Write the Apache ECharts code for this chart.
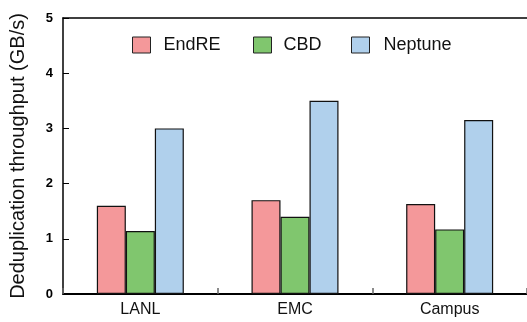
<!DOCTYPE html>
<html>
<head>
<meta charset="utf-8">
<script src="https://cdn.jsdelivr.net/npm/echarts@6/dist/echarts.min.js"></script>
<style>
  html, body { margin: 0; padding: 0; background: #fff; }
  #chart { width: 527px; height: 322px; }
</style>
</head>
<body>
<div id="chart"></div>
<script>
// Deduplication throughput per trace, GB/s
const categories = ['LANL', 'EMC', 'Campus'];
const endre   = [1.60, 1.70, 1.63];
const cbd     = [1.14, 1.40, 1.17];
const neptune = [3.00, 3.50, 3.15];
const yTicks  = [0, 1, 2, 3, 4, 5];

const seriesNames  = ['EndRE', 'CBD', 'Neptune'];
const seriesColors = ['#f4989a', '#80c66e', '#b0d0ec'];

const FONT = 'Liberation Sans, Arial, sans-serif';

function barSeries(i, data) {
  return {
    name: seriesNames[i],
    type: 'bar',
    data: data,
    barWidth: 29,
    barGap: '0%',
    itemStyle: { color: seriesColors[i], borderColor: '#111', borderWidth: 1.2 }
  };
}

// one legend block per series so each key sits at its own spot
const legendLeft = [132, 253, 351];
const legendPad  = [8, 7, 9];
const legends = seriesNames.map((name, i) => ({
  left: legendLeft[i], top: 36,
  padding: 0,
  itemWidth: 18, itemHeight: 16,
  icon: 'rect',
  itemStyle: { borderColor: '#222', borderWidth: 1 },
  textStyle: { fontFamily: FONT, fontSize: 18, color: '#111', padding: [1, 0, 0, legendPad[i]] },
  data: [name]
}));

const chart = echarts.init(document.getElementById('chart'), null, { renderer: 'canvas' });
chart.setOption({
  animation: false,
  backgroundColor: '#fff',
  grid: { left: 61, top: 18, width: 468, bottom: 28, containLabel: false },
  legend: legends,
  xAxis: [{
    type: 'category',
    data: categories,
    axisLine: { lineStyle: { color: '#000', width: 2 } },
    axisTick: { show: true, inside: true, length: 6, lineStyle: { color: '#666', width: 1.5 } },
    axisLabel: { fontFamily: FONT, fontSize: 16, color: '#111', margin: 8 },
    splitLine: { show: false }
  }, {
    type: 'category',
    position: 'top',
    data: categories,
    axisLine: { lineStyle: { color: '#000', width: 1.5 } },
    axisTick: { show: false },
    axisLabel: { show: false }
  }],
  yAxis: {
    type: 'value',
    min: yTicks[0], max: yTicks[yTicks.length - 1], interval: 1,
    name: 'Deduplication throughput (GB/s)',
    nameLocation: 'middle',
    nameGap: 35,
    nameTextStyle: { fontFamily: FONT, fontSize: 20, color: '#111' },
    axisLine: { show: true, lineStyle: { color: '#000', width: 1.5 } },
    axisTick: { show: true, inside: true, length: 6, lineStyle: { color: '#000' } },
    axisLabel: { fontFamily: FONT, fontSize: 13, fontWeight: 'bold', color: '#000', margin: 10 },
    splitLine: { show: false }
  },
  series: [
    barSeries(0, endre),
    barSeries(1, cbd),
    barSeries(2, neptune)
  ]
});
</script>
</body>
</html>
